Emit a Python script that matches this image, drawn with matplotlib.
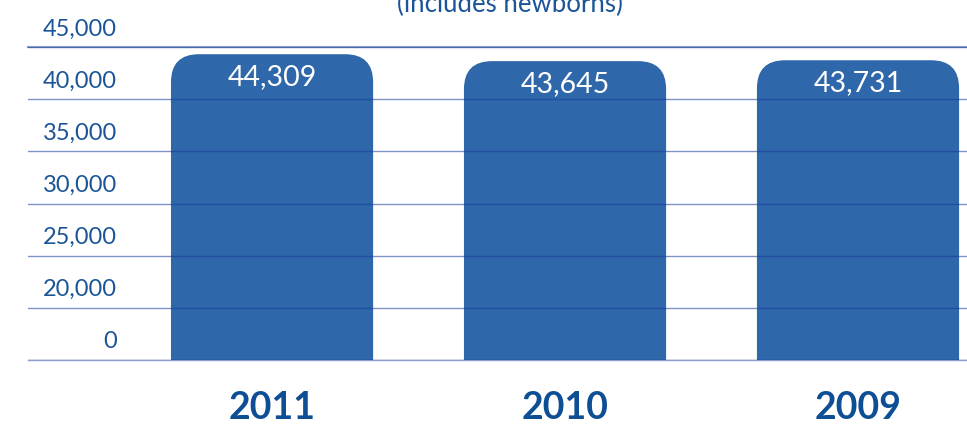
import matplotlib
matplotlib.use("Agg")
import matplotlib.pyplot as plt
import numpy as np
from matplotlib.patches import FancyBboxPatch
from matplotlib.transforms import IdentityTransform, ScaledTranslation

# ---- data ----
years = ["2011", "2010", "2009"]
patients = [44309, 43645, 43731]
value_labels = ["44,309", "43,645", "43,731"]
ytick_values = [0, 20000, 25000, 30000, 35000, 40000, 45000]
ytick_labels = ["0", "20,000", "25,000", "30,000", "35,000", "40,000", "45,000"]
subtitle = "(includes newborns)"

BAR = "#2e67aa"
TXT = "#1b5597"
YEAR = "#0e4e95"
GRID = "#173c98"

plt.rcParams['font.family'] = ['Lato', 'DejaVu Sans']

W, H, DPI = 967, 425, 100
fig = plt.figure(figsize=(W / DPI, H / DPI), dpi=DPI)
ax = fig.add_axes([28 / W, (H - 360) / H, (W - 28) / W, (360 - 47) / H])

# broken y scale: 0-20000 takes one band, then 5000 per band
def fwd(v):
    v = np.asarray(v, dtype=float)
    return np.where(v <= 20000, v / 20000.0, 1 + (v - 20000) / 5000.0)

def inv(p):
    p = np.asarray(p, dtype=float)
    return np.where(p <= 1, p * 20000.0, 20000 + (p - 1) * 5000.0)

ax.set_yscale('function', functions=(fwd, inv))
ax.set_ylim(0, 45000)
x = np.arange(len(years))
ax.set_xlim(-0.833, 2.372)

bars = ax.bar(x, patients, width=0.69, color=BAR, zorder=2)

for s in ['left', 'right']:
    ax.spines[s].set_visible(False)
ax.spines['top'].set_color(GRID)
ax.spines['top'].set_alpha(0.5)
ax.spines['top'].set_linewidth(1.5)
ax.spines['top'].set_zorder(4)
ax.spines['bottom'].set_color(GRID)
ax.spines['bottom'].set_alpha(0.5)
ax.spines['bottom'].set_linewidth(1.0)
ax.spines['bottom'].set_zorder(4)

ax.set_yticks(ytick_values, ytick_labels)
ax.yaxis.grid(True, color=GRID, alpha=0.55, linewidth=1.0, zorder=4)
ax.set_axisbelow(False)
ax.tick_params(axis='y', length=0, pad=-64, labelsize=17, labelcolor=TXT)
for lab in ax.get_yticklabels():
    lab.set_transform(lab.get_transform() + ScaledTranslation(0, 0.20, fig.dpi_scale_trans))

ax.set_xticks(x, years)
ax.tick_params(axis='x', length=0, pad=22, labelsize=27, labelcolor=YEAR)
for lab in ax.get_xticklabels():
    lab.set_fontweight('bold')

# rounded top corners for bars (in display pixels)
r = 28
for rect in bars.patches:
    x0, y0 = rect.get_x(), rect.get_y()
    x1, y1 = x0 + rect.get_width(), y0 + rect.get_height()
    (dx0, dy0), (dx1, dy1) = ax.transData.transform([(x0, y0), (x1, y1)])
    rect.set_visible(False)
    p = FancyBboxPatch((dx0, dy0 - 60), dx1 - dx0, (dy1 - dy0) + 60,
                       boxstyle=f"round,pad=0,rounding_size={r}",
                       transform=IdentityTransform(), facecolor=BAR,
                       edgecolor='none', zorder=2)
    ax.add_patch(p)
    p.set_clip_path(ax.patch)

for xi, v, lbl in zip(x, patients, value_labels):
    ax.annotate(lbl, xy=(xi, v), xytext=(0, -7), textcoords='offset points',
                ha='center', va='top', color='white', fontsize=20.5, zorder=3)

fig.text(510 / W, 1 - 12 / H, subtitle, ha='center', va='baseline',
         fontsize=18.5, color=TXT)

fig.savefig("out.png", dpi=DPI)
